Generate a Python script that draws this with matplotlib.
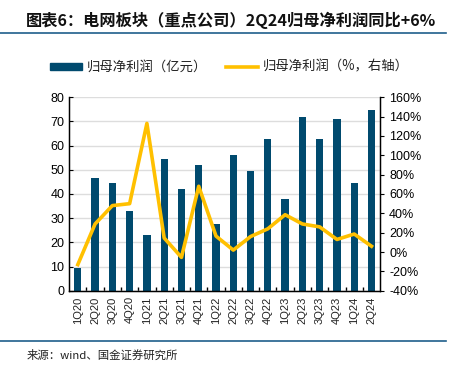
import matplotlib.pyplot as plt
from matplotlib.patches import Rectangle
from matplotlib.lines import Line2D
from matplotlib.ticker import FuncFormatter, MultipleLocator

plt.rcParams['font.family'] = ['Liberation Sans', 'Noto Sans CJK SC', 'DejaVu Sans']

quarters = ['1Q20', '2Q20', '3Q20', '4Q20', '1Q21', '2Q21', '3Q21', '4Q21', '1Q22',
            '2Q22', '3Q22', '4Q22', '1Q23', '2Q23', '3Q23', '4Q23', '1Q24', '2Q24']
profit = [9.6, 46.6, 44.6, 33.0, 23.1, 54.6, 42.2, 52.1, 27.6,
          56.0, 49.6, 62.6, 37.8, 71.7, 62.6, 71.1, 44.6, 74.7]
yoy = [-13, 29, 48, 50, 133, 14.5, -5.5, 68, 16.5,
       2, 16, 24, 38.6, 29, 26, 13, 18.6, 6]

bar_color = '#004A6E'
line_color = '#FFC000'
cjk = ['Noto Sans CJK SC', 'DejaVu Sans']

fig = plt.figure(figsize=(4.52, 3.72), dpi=100)
ax = fig.add_axes([0.153, 0.2185, 0.688, 0.52])
x = list(range(len(quarters)))
ax.bar(x, profit, width=0.42, color=bar_color, zorder=2)
ax.set_xlim(-0.5, len(quarters) - 0.5)
ax.set_ylim(0, 80)
ax.yaxis.set_major_locator(MultipleLocator(10))
ax.grid(axis='y', color='#DDDDDD', linewidth=1, zorder=0)
ax.set_xticks([i + 0.5 for i in x[:-1]], minor=False)
ax.set_xticklabels([])
ax.set_xticks(x, minor=True)
ax.set_xticklabels(quarters, minor=True, rotation=90, fontsize=8, color='#222222')
ax.tick_params(axis='x', which='minor', length=0, pad=4)
ax.tick_params(axis='x', which='major', length=3, direction='in', width=1)
ax.tick_params(axis='y', labelsize=9, length=3, direction='in')
ax.spines['top'].set_visible(False)
for s in ['left', 'bottom', 'right']:
    ax.spines[s].set_linewidth(1)

ax2 = ax.twinx()
ax2.plot(x, yoy, color=line_color, linewidth=2.6, zorder=3)
ax2.set_ylim(-40, 160)
ax2.yaxis.set_major_locator(MultipleLocator(20))
ax2.yaxis.set_major_formatter(FuncFormatter(lambda v, p: f'{v:.0f}%'))
ax2.tick_params(axis='y', labelsize=9, length=3, direction='out')
ax2.spines['top'].set_visible(False)

# title and rules
fig.text(0.058, 0.945, '图表6：电网板块（重点公司）2Q24归母净利润同比+6%', fontsize=11.7,
         fontweight='bold', family=cjk, color='#111111', va='center')
fig.add_artist(Line2D([0, 0.987], [0.912, 0.912], color='#1F5F8B', linewidth=1.2))
fig.add_artist(Line2D([0, 0.987], [0.083, 0.083], color='#1F5F8B', linewidth=1.2))
fig.text(0.058, 0.045, '来源：wind、国金证券研究所', fontsize=8.2, family=cjk, color='#222222', va='center')

# legend
fig.add_artist(Rectangle((0.111, 0.812), 0.07, 0.018, color=bar_color, transform=fig.transFigure))
fig.text(0.192, 0.821, '归母净利润（亿元）', fontsize=9.6, family=cjk, va='center', color='#222222')
fig.add_artist(Line2D([0.5, 0.571], [0.821, 0.821], color=line_color, linewidth=2.6))
fig.text(0.582, 0.821, '归母净利润（%，右轴）', fontsize=9.6, family=cjk, va='center', color='#222222')

fig.savefig('out.png', dpi=100)
